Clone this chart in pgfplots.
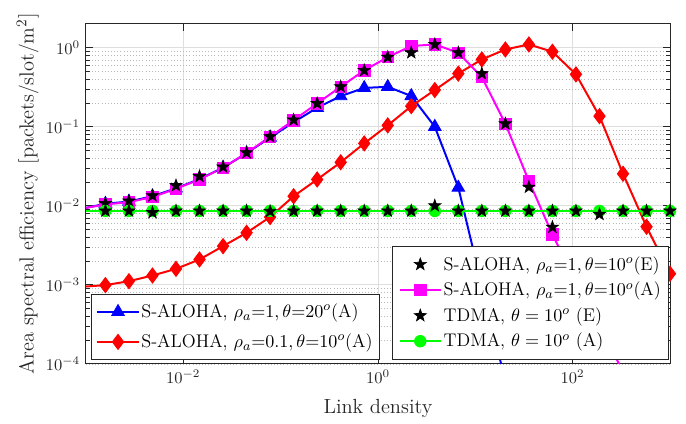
\documentclass[border=0pt]{standalone}
\usepackage{pgfplots}
\pgfplotsset{compat=1.18}
\usetikzlibrary{plotmarks}
\definecolor{mag}{rgb}{1,0,1}
\definecolor{grn}{rgb}{0,1,0}

\pgfdeclareplotmark{pentagram}{%
  \pgfpathmoveto{\pgfpointpolar{90}{\pgfplotmarksize}}%
  \pgfpathlineto{\pgfpointpolar{126}{0.40\pgfplotmarksize}}%
  \pgfpathlineto{\pgfpointpolar{162}{\pgfplotmarksize}}%
  \pgfpathlineto{\pgfpointpolar{198}{0.40\pgfplotmarksize}}%
  \pgfpathlineto{\pgfpointpolar{234}{\pgfplotmarksize}}%
  \pgfpathlineto{\pgfpointpolar{270}{0.40\pgfplotmarksize}}%
  \pgfpathlineto{\pgfpointpolar{306}{\pgfplotmarksize}}%
  \pgfpathlineto{\pgfpointpolar{342}{0.40\pgfplotmarksize}}%
  \pgfpathlineto{\pgfpointpolar{18}{\pgfplotmarksize}}%
  \pgfpathlineto{\pgfpointpolar{54}{0.40\pgfplotmarksize}}%
  \pgfpathclose
  \pgfusepathqfillstroke
}

\begin{document}
\begin{tikzpicture}
\begin{axis}[
  scale only axis,
  width=354pt, height=206pt,
  xmode=log, ymode=log,
  xmin=1e-3, xmax=1e3, ymin=1e-4, ymax=2,
  name=main,
  xtick={1e-2,1,1e2},
  xminorticks=false,
  ytick={1e-4,1e-3,1e-2,1e-1,1},
  xmajorgrids, ymajorgrids, yminorgrids,
  major grid style={black!13, line width=0.5pt},
  minor grid style={black!28, line width=0.35pt, dash pattern=on 0.5pt off 1.4pt},
  axis line style={black!85, line width=0.6pt},
  tick style={black!85, line width=0.5pt},
  major tick length=4pt, minor tick length=2.5pt,
  tick label style={font=\normalsize, text=black!85},
  label style={font=\fontsize{12.4}{15}\selectfont, text=black!85},
  xlabel={Link density},
  xlabel style={yshift=-3pt},
  ylabel={Area spectral efficiency [packets$/$slot$/$m$^2$]},
  ylabel style={yshift=-2.5pt},
  legend cell align=left,
  legend image code/.code={\draw[mark repeat=2,mark phase=2,#1] plot coordinates {(0pt,0pt) (12.5pt,0pt) (25pt,0pt)};},
  legend style={at={(0.0086,0.012)}, anchor=south west,
    draw=black!85, fill=white, line width=0.6pt,
    font=\fontsize{11.1}{13}\selectfont, inner xsep=3pt, inner ysep=3pt,
    row sep=3.2pt, nodes={inner xsep=1pt, inner ysep=2.6pt}},
]
% S-ALOHA rho=1 theta=20 (A)
\addplot[blue, line width=1.2pt, forget plot] coordinates {(1e-3,0.0094) (1.585e-3,0.0106)};
\addplot[blue, line width=1.2pt, forget plot] coordinates {(11.67,0.00098) (20.37,0.00006)};
\addplot[blue, line width=1.2pt, mark=triangle*, mark size=4.4pt, mark options={solid,line width=0.5pt}, forget plot] coordinates {
(1.585e-3,0.0106) (2.765e-3,0.0113) (4.825e-3,0.0132) (8.415e-3,0.0166) (1.468e-2,0.0218)
(2.562e-2,0.0303) (4.469e-2,0.0462) (7.796e-2,0.073) (0.1360,0.114) (0.2373,0.174)
(0.4140,0.244) (0.7223,0.31) (1.260,0.32) (2.198,0.245) (3.835,0.100)
(6.690,0.0170) (11.67,0.00098)};
% S-ALOHA rho=0.1 theta=10 (A)
\addplot[red, line width=1.2pt, forget plot] coordinates {(1e-3,0.00095) (1.585e-3,0.00099)};
\addplot[red, line width=1.2pt, mark=diamond*, mark size=4.6pt, mark options={solid,line width=0.5pt}, forget plot] coordinates {
(1.585e-3,0.00099) (2.765e-3,0.00111) (4.825e-3,0.00131) (8.415e-3,0.00159) (1.468e-2,0.00209)
(2.562e-2,0.00308) (4.469e-2,0.00455) (7.796e-2,0.0072) (0.1360,0.0132) (0.2373,0.0215)
(0.4140,0.0355) (0.7223,0.0615) (1.260,0.104) (2.198,0.182) (3.835,0.291)
(6.690,0.47) (11.67,0.711) (20.37,0.95) (35.53,1.10) (61.98,0.89)
(108.1,0.46) (188.7,0.136) (329.2,0.0254) (574.3,0.00542) (1000,0.00138)};
% S-ALOHA rho=1 theta=10 (A)
\addplot[mag, line width=1.2pt, forget plot] coordinates {(1e-3,0.0094) (1.585e-3,0.0104)};
\addplot[mag, line width=1.2pt, forget plot] coordinates {(188.7,0.0003) (329.2,0.00008)};
\addplot[mag, line width=1.2pt, mark=square*, mark size=3.5pt, mark options={solid,line width=0.5pt}, forget plot] coordinates {
(1.585e-3,0.0104) (2.765e-3,0.0111) (4.825e-3,0.0129) (8.415e-3,0.0164) (1.468e-2,0.0215)
(2.562e-2,0.0303) (4.469e-2,0.0465) (7.796e-2,0.0747) (0.1360,0.121) (0.2373,0.197)
(0.4140,0.321) (0.7223,0.516) (1.260,0.76) (2.198,1.05) (3.835,1.10)
(6.690,0.865) (11.67,0.425) (20.37,0.109) (35.53,0.0205) (61.98,0.00433)
(108.1,0.00111) (188.7,0.0003)};
% S-ALOHA rho=1 theta=10 (E)
\addplot[black, only marks, mark=pentagram, mark size=3.9pt, mark options={line width=0.4pt}, forget plot] coordinates {
(1.585e-3,0.0107) (2.765e-3,0.0115) (4.825e-3,0.0134) (8.415e-3,0.0180) (1.468e-2,0.0235)
(2.562e-2,0.031) (4.469e-2,0.047) (7.796e-2,0.075) (0.1360,0.122) (0.2373,0.197)
(0.4140,0.321) (0.7223,0.516) (1.260,0.76) (2.198,0.865) (3.835,1.10)
(6.690,0.865) (11.67,0.47) (20.37,0.109) (35.53,0.0172) (61.98,0.00536)};
% TDMA (A)
\addplot[grn, line width=1.4pt, forget plot] coordinates {(1e-3,0.0086) (1.585e-3,0.0086)};
\addplot[grn, line width=1.4pt, mark=*, mark size=3.5pt, mark options={solid,line width=0.5pt}, forget plot] coordinates {
(1.585e-3,0.0086) (2.765e-3,0.0086) (4.825e-3,0.0086) (8.415e-3,0.0086) (1.468e-2,0.0086)
(2.562e-2,0.0086) (4.469e-2,0.0086) (7.796e-2,0.0086) (0.1360,0.0086) (0.2373,0.0086)
(0.4140,0.0086) (0.7223,0.0086) (1.260,0.0086) (2.198,0.0086) (3.835,0.0086)
(6.690,0.0086) (11.67,0.0086) (20.37,0.0086) (35.53,0.0086) (61.98,0.0086)
(108.1,0.0086) (188.7,0.0086) (329.2,0.0086) (574.3,0.0086) (1000,0.0086)};
% TDMA (E)
\addplot[black, only marks, mark=pentagram, mark size=3.9pt, mark options={line width=0.4pt}, forget plot] coordinates {
(1.585e-3,0.0086) (2.765e-3,0.0086) (4.825e-3,0.0082) (8.415e-3,0.0086) (1.468e-2,0.0086)
(2.562e-2,0.0086) (4.469e-2,0.0086) (7.796e-2,0.0085) (0.1360,0.0086) (0.2373,0.0086)
(0.4140,0.0086) (0.7223,0.0086) (1.260,0.0086) (2.198,0.0086) (3.835,0.0100)
(6.690,0.0086) (11.67,0.0086) (20.37,0.0086) (35.53,0.0086) (61.98,0.0086)
(108.1,0.0086) (188.7,0.0078) (329.2,0.0086) (574.3,0.0086) (1000,0.0086)};
% legend (left)
\addlegendimage{blue, line width=1.2pt, mark=triangle*, mark size=4.4pt, mark options={solid,line width=0.5pt}}
\addlegendentry{S-ALOHA, $\rho_a{=}1, \theta{=}20^o$(A)}
\addlegendimage{red, line width=1.2pt, mark=diamond*, mark size=4.6pt, mark options={solid,line width=0.5pt}}
\addlegendentry{S-ALOHA, $\rho_a{=}0.1, \theta{=}10^o$(A)}
\end{axis}
\begin{axis}[
  scale only axis,
  width=354pt, height=206pt,
  xmode=log, ymode=log,
  xmin=1e-3, xmax=1e3, ymin=1e-4, ymax=2,
  hide axis,
  legend cell align=left,
  legend image code/.code={\draw[mark repeat=2,mark phase=2,#1] plot coordinates {(0pt,0pt) (12.5pt,0pt) (25pt,0pt)};},
  legend style={at={(0.998,0.012)}, anchor=south east,
    draw=black!85, fill=white, line width=0.6pt,
    font=\fontsize{11.1}{13}\selectfont, inner xsep=3.5pt, inner ysep=3.4pt,
    row sep=0.5pt, nodes={inner xsep=1pt, inner ysep=2.6pt}},
]
\addlegendimage{black, only marks, mark=pentagram, mark size=3.9pt, mark options={line width=0.4pt}}
\addlegendentry{S-ALOHA, $\rho_a{=}1, \theta{=}10^o$(E)}
\addlegendimage{mag, line width=1.2pt, mark=square*, mark size=3.5pt, mark options={solid,line width=0.5pt}}
\addlegendentry{S-ALOHA, $\rho_a{=}1, \theta{=}10^o$(A)}
\addlegendimage{black, only marks, mark=pentagram, mark size=3.9pt, mark options={line width=0.4pt}}
\addlegendentry{TDMA, $\theta = 10^o$ (E)}
\addlegendimage{grn, line width=1.4pt, mark=*, mark size=3.5pt, mark options={solid,line width=0.5pt}}
\addlegendentry{TDMA, $\theta = 10^o$ (A)}
\end{axis}
\path ([shift={(-52.1pt,-32.7pt)}]main.south west) rectangle ([shift={(9.7pt,14.5pt)}]main.north east);
\end{tikzpicture}
\end{document}
